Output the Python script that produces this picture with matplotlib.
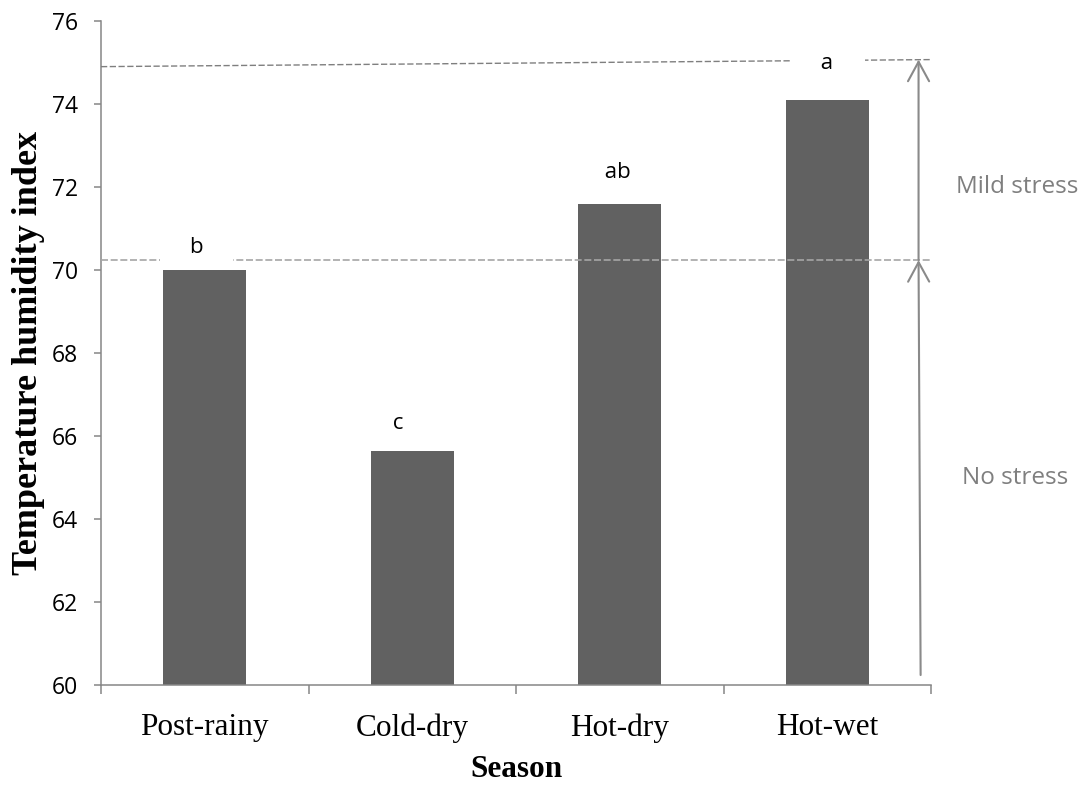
import numpy as np
import matplotlib
matplotlib.use('Agg')
import matplotlib.pyplot as plt

# data
seasons = ['Post-rainy', 'Cold-dry', 'Hot-dry', 'Hot-wet']
thi = [70.0, 65.65, 71.6, 74.1]
letters = ['b', 'c', 'ab', 'a']
letter_y = [70.55, 66.3, 72.36, 74.98]
letter_dx = [-0.04, -0.07, -0.01, 0.0]
letter_gap = [4, 1, 1, 5]	# spaces each side, white box hides the dashed line
letter_pad = [5, 2, 2, 2]

no_stress_limit = 70.24
mild_top = [74.9, 75.07]	# hand drawn line, slightly sloped
arrow_x = 3.45
arrow_bottom = 60.24

sans = ['Open Sans', 'DejaVu Sans']
serif = ['Liberation Serif', 'DejaVu Serif']
grey_axis = '#868686'

fig = plt.figure(figsize=(10.87, 7.88), dpi=100)
ax = fig.add_axes([101/1087, 1 - 685/788, 830/1087, 664/788])

x = np.arange(len(seasons))
ax.bar(x, [v - 60 for v in thi], bottom=60, width=0.4, color='#616161', zorder=2)

ax.set_xlim(-0.5, 3.5)
ax.set_ylim(60, 76)
ax.set_yticks(np.arange(60, 77, 2))
ax.set_yticklabels([str(v) for v in range(60, 77, 2)], family=sans, fontsize=16.5)
ax.set_xticks(x)
ax.set_xticklabels(seasons, family=serif, fontsize=22.5)
ax.set_xticks(np.arange(-0.5, 3.6, 1), minor=True)
ax.tick_params(axis='x', which='major', length=0, pad=20.5)
ax.tick_params(axis='x', which='minor', length=6.5, color=grey_axis, width=1.1)
ax.tick_params(axis='y', length=5, color=grey_axis, width=1.1, pad=11.5)

for s in ['top', 'right']:
	ax.spines[s].set_visible(False)
for s in ['left', 'bottom']:
	ax.spines[s].set_color(grey_axis)
	ax.spines[s].set_linewidth(1.1)

ax.set_xlabel('Season', family=serif, fontsize=22.5, fontweight='bold', labelpad=9)
ax.set_ylabel('Temperature humidity index', family=serif, fontsize=26, fontweight='bold', labelpad=5)

# threshold lines
ax.plot([-0.5, 3.5], [no_stress_limit, no_stress_limit], color='#a6a6a6', lw=1.2,
	linestyle=(0, (4.2, 1.6)), zorder=3, clip_on=False)
ax.plot([-0.5, 3.5], mild_top, color='#7f7f7f', lw=1.0,
	linestyle=(0, (4.5, 1.8)), zorder=3, clip_on=False)

# significance letters
for i in range(len(letters)):
	pad = ' ' * letter_gap[i]
	ax.text(x[i] + letter_dx[i], letter_y[i], pad + letters[i] + pad, family=sans, fontsize=16,
		ha='center', va='center', zorder=4,
		bbox=dict(facecolor='white', edgecolor='none', pad=letter_pad[i]))

# stress arrows
arrow = dict(arrowstyle='->, head_length=0.7, head_width=0.38', color='#8a8a8a',
	lw=1.5, mutation_scale=20, shrinkA=0, shrinkB=0)
ax.annotate('', xy=(arrow_x - 0.01, no_stress_limit), xytext=(arrow_x, arrow_bottom),
	arrowprops=arrow, annotation_clip=False, zorder=3)
ax.annotate('', xy=(arrow_x - 0.01, mild_top[1]), xytext=(arrow_x - 0.01, no_stress_limit),
	arrowprops=arrow, annotation_clip=False, zorder=3)

ax.text(1017/1087, 1 - 187/788, 'Mild stress', transform=fig.transFigure, family=sans,
	fontsize=17.5, color='#7f7f7f', ha='center', va='center')
ax.text(1015/1087, 1 - 478/788, 'No stress', transform=fig.transFigure, family=sans,
	fontsize=17.5, color='#7f7f7f', ha='center', va='center')

fig.savefig('out.png', dpi=100)
